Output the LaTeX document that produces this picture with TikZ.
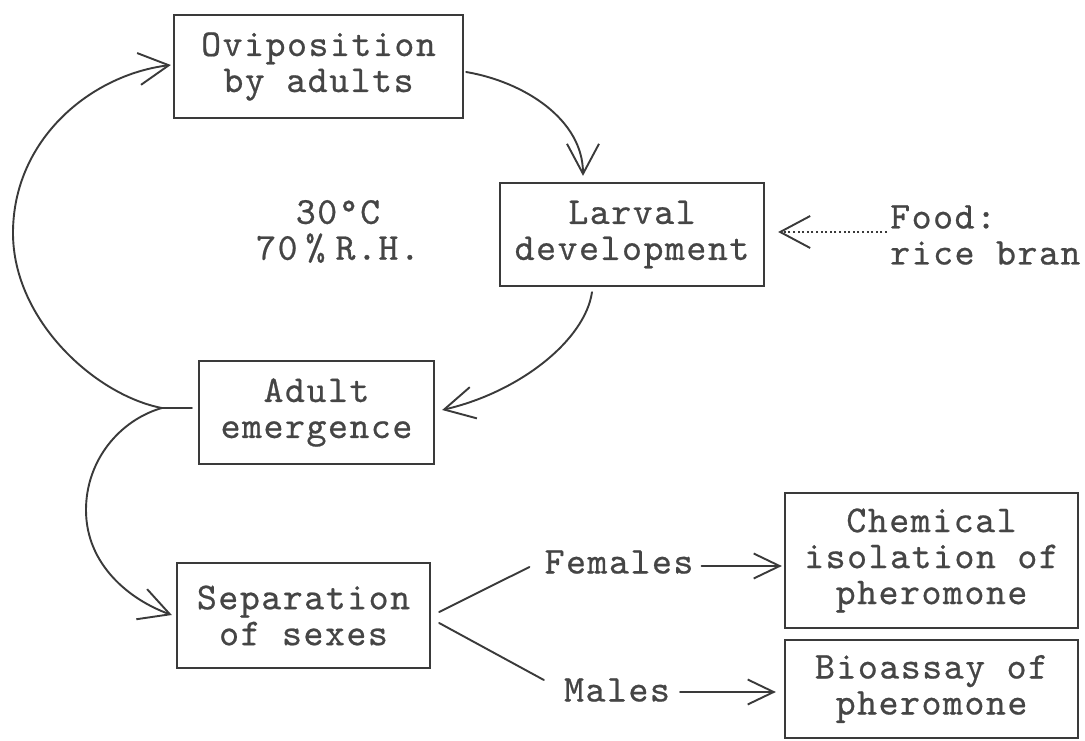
\documentclass[tikz,border=0pt]{standalone}
\usepackage{fontspec}
\newfontfamily\tw[LetterSpace=4,FakeBold=0.6]{lmmono10-regular.otf}
\usetikzlibrary{arrows.meta,calc}
\definecolor{ink}{HTML}{3A3A3A}
\definecolor{txt}{HTML}{454545}
\newcommand\fs{\tw\fontsize{38bp}{36bp}\selectfont}
\begin{document}
\begin{tikzpicture}[x=1bp,y=-1bp,
  box/.style={draw=ink,line width=2.3bp,inner sep=0pt,align=center,font=\fs,text=txt},
  lbl/.style={inner sep=0pt,align=center,font=\fs,text=txt},
  conn/.style={draw=ink,line width=1.9bp,line cap=round},
  >={Straight Barb[length=30bp,width=32bp]},
  small/.style={-{Straight Barb[length=26bp,width=25bp]}}]
\useasboundingbox[fill=white] (0,0) rectangle (1085,741);

\node[box,minimum width=289bp,minimum height=103bp] (ovip) at (318.5,66.5) {Oviposition\\by adults};
\node[box,minimum width=264bp,minimum height=103bp] (larv) at (632,234.5) {Larval\\development};
\node[box,minimum width=235bp,minimum height=103bp] (adult) at (316.5,412.5) {Adult\\emergence};
\node[box,minimum width=253bp,minimum height=105bp] (sep) at (303.5,615.5) {Separation\\of sexes};
\node[box,minimum width=293bp,minimum height=135bp] (chem) at (931.5,560.5) {Chemical\\isolation of\\pheromone};
\node[box,minimum width=293bp,minimum height=98bp] (bio) at (931.5,689) {Bioassay of\\pheromone};

\node[lbl] (cond) at (338,231.5) {30°C\\70\kern8bp\%\kern10bp R.H.};
\node[lbl,anchor=west,align=left] (food) at (890,235) {Food:\\rice bran};
\node[lbl] (fem) at (619,562) {Females};
\node[lbl] (male) at (617,690) {Males};

\coordinate (cusp) at ($(adult.west)+(-36,-4.5)$);

% cycle
\draw[conn,->] ($(ovip.east)+(2,5.5)$) .. controls (525,82) and (583,120) .. ($(larv.north)+(-49,-6)$);
\draw[conn,->] ($(larv.south)+(-40,5)$) .. controls (585,340) and (520,392) .. ($(adult.east)+(7,-2.5)$);
\draw[conn,->] ($(adult.west)+(-6,-4.5)$) -- (cusp) .. controls (95,395) and (13,320) .. (13,233) .. controls (13,140) and (90,75) .. ($(ovip.west)+(-2,-1.5)$);
\draw[conn,->] (cusp) .. controls (120,420) and (86,460) .. (86,510) .. controls (86,565) and (130,600) .. ($(sep.west)+(-4,-0.5)$);

% food
\draw[conn,->,dash pattern=on 2bp off 2.6bp,line cap=butt] ($(food.west)+(-3,-3)$) -- ($(larv.east)+(13,-2.5)$);

% split
\draw[conn] ($(sep.east)+(8,-3.5)$) -- ($(fem.west)+(-15,5)$);
\draw[conn] ($(sep.east)+(8,7.5)$) -- ($(male.west)+(-20,-10)$);
\draw[conn,small] ($(fem.east)+(8,4)$) -- ($(chem.west)+(-2,5.5)$);
\draw[conn,small] ($(male.east)+(10,2)$) -- ($(bio.west)+(-8,3)$);
\end{tikzpicture}
\end{document}
